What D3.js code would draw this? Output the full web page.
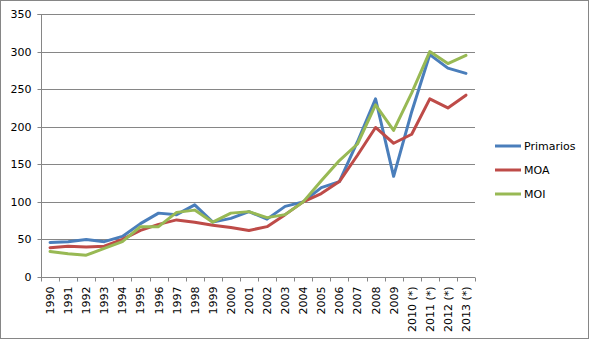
<!DOCTYPE html>
<html><head><meta charset="utf-8">
<script src="https://cdn.jsdelivr.net/npm/d3@7"></script>
<style>body{margin:0;background:#fff}svg{display:block}text{font-family:"DejaVu Sans",sans-serif;font-size:11px;fill:#000}</style>
</head><body><svg id="c" width="590" height="340"></svg>
<script>
const years = ["1990","1991","1992","1993","1994","1995","1996","1997","1998","1999","2000","2001","2002","2003","2004","2005","2006","2007","2008","2009","2010 (*)","2011 (*)","2012 (*)","2013 (*)"];
const primarios = [46,47,50,47,54,71,85,83,96,73,78,87,77,94,100,119,127,180,237,134,220,296,278,271];
const moa = [39,41,40,41,50,62,70,76,73,69,66,62,67,83,100,111,127,162,199,178,190,237,225,242];
const moi = [34,31,29,38,47,67,67,86,89,73,85,87,79,83,100,128,155,177,229,195,245,300,284,295];
const seriesNames = ["Primarios","MOA","MOI"];
const colors = ["#4A7EBB","#BE4B48","#98B954"];
const yTicks = [0,50,100,150,200,250,300,350];

const svg = d3.select("#c");
svg.append("rect").attr("x",0.5).attr("y",0.5).attr("width",588).attr("height",338).attr("fill","#fff").attr("stroke","#868686");
const L=41, R=475, T=14, B=277;
const x = d3.scaleBand().domain(years).range([L,R]);
const y = d3.scaleLinear().domain([0,350]).range([B,T]);

svg.append("g").selectAll("line").data(yTicks.slice(1)).join("line")
  .attr("x1",L).attr("x2",R).attr("y1",d=>Math.round(y(d))+0.5).attr("y2",d=>Math.round(y(d))+0.5)
  .attr("stroke","#868686");

const ya = svg.append("g").attr("transform",`translate(${L+0.5},0.5)`)
  .call(d3.axisLeft(y).tickValues(yTicks).tickSize(4).tickPadding(6).tickFormat(d3.format("d")));
ya.select(".domain").attr("stroke","#868686").attr("d",`M-4,${y(350)}H0V${y(0)}`);
ya.selectAll(".tick line").attr("stroke","#868686");
ya.selectAll(".tick").attr("transform",d=>`translate(0,${Math.round(y(d))})`);
ya.selectAll("text").attr("font-family","DejaVu Sans").attr("font-size",11).attr("fill","#000").attr("dy","0.35em");

const xa = svg.append("g").attr("transform",`translate(0,${B+0.5})`);
xa.append("line").attr("x1",L).attr("x2",R).attr("stroke","#868686");
const bounds = years.map(d=>x(d)).concat([R]);
xa.selectAll("line.t").data(bounds).join("line").attr("class","t")
  .attr("x1",d=>Math.round(d)+0.5).attr("x2",d=>Math.round(d)+0.5).attr("y1",0).attr("y2",4).attr("stroke","#868686");
xa.selectAll("text").data(years).join("text")
  .attr("transform",d=>`translate(${x(d)+x.bandwidth()/2+4},9) rotate(-90)`)
  .attr("text-anchor","end").text(d=>d);

const data = [primarios,moa,moi];
const line = d3.line().x((d,i)=>x(years[i])+x.bandwidth()/2).y(d=>y(d));
data.forEach((s,k)=>{
  svg.append("path").datum(s).attr("d",line).attr("fill","none").attr("stroke",colors[k])
    .attr("stroke-width",3).attr("stroke-linejoin","round").attr("stroke-linecap","round");
});

const lg = svg.append("g");
seriesNames.forEach((n,k)=>{
  const yy = 146 + k*24;
  lg.append("line").attr("x1",495).attr("x2",521).attr("y1",yy).attr("y2",yy).attr("stroke",colors[k]).attr("stroke-width",3);
  lg.append("text").attr("x",524).attr("y",yy).attr("dy","0.35em").text(n);
});
</script></body></html>
